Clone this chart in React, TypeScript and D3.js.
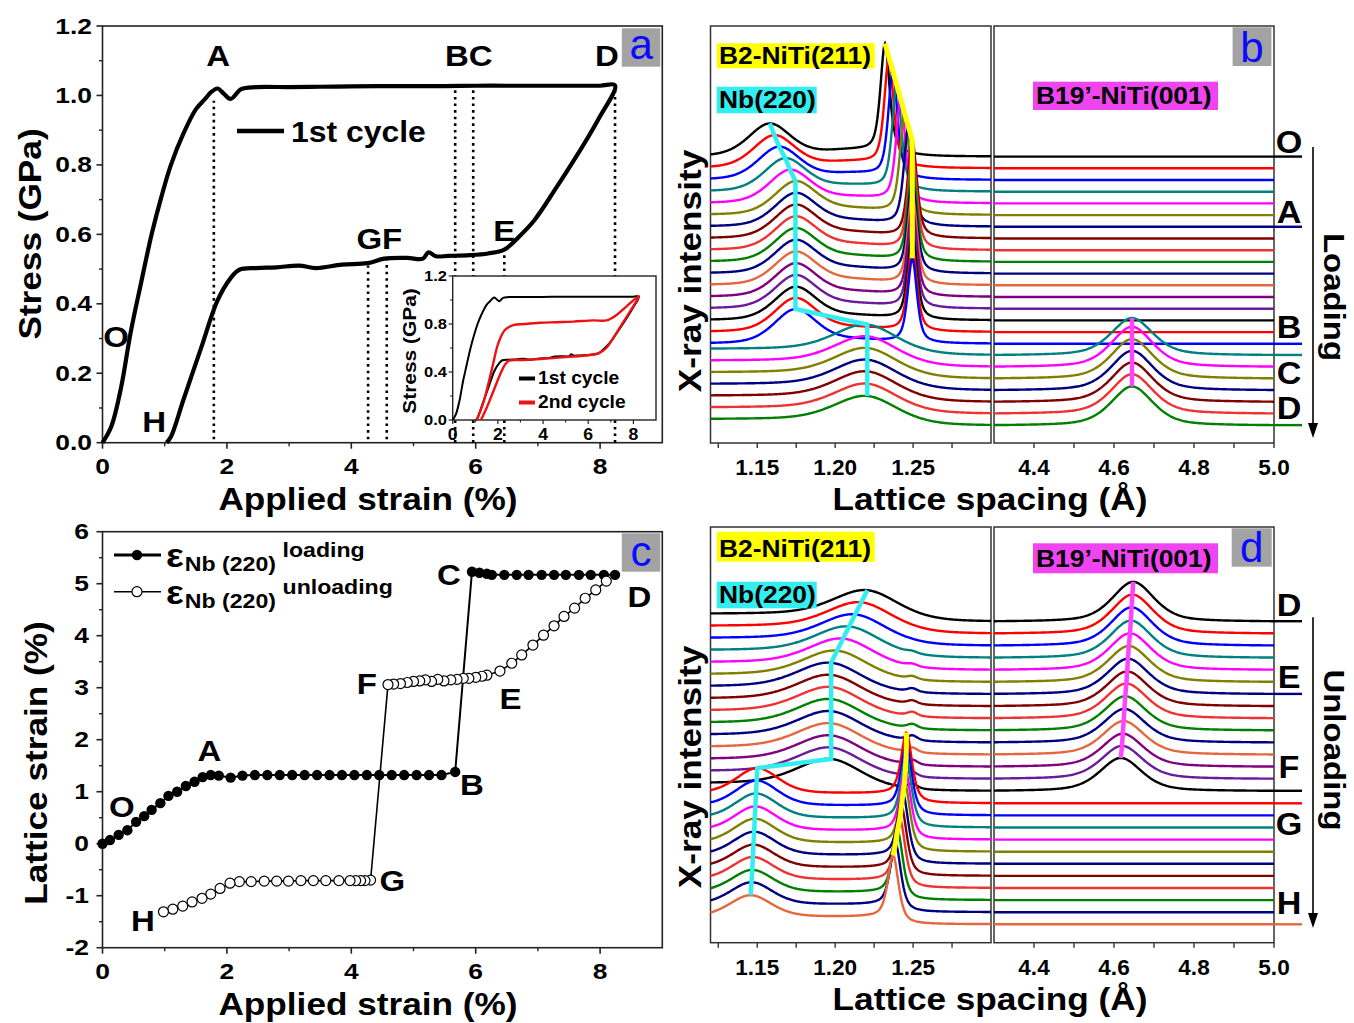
import React from "react";
import * as d3 from "d3";

const FONT = "'Liberation Sans', Arial, Helvetica, sans-serif";

// ---------- (a) macroscopic stress-strain ----------
const cycle1Strain = [0, 0.14, 0.3, 0.45, 0.62, 0.79, 0.95, 1.1, 1.3, 1.5, 1.65, 1.75, 1.85, 1.95, 2.06, 2.23, 2.47, 3.0, 3.5, 4.0, 4.5, 5.0, 5.5, 6.0, 6.5, 7.0, 7.5, 8.0, 8.24,
  7.97, 7.62, 7.28, 6.94, 6.7, 6.46, 6.2, 5.9, 5.56, 5.36, 5.24, 5.15, 4.9, 4.53, 4.26, 3.85, 3.43, 3.16, 2.8, 2.47, 2.2, 2.06, 1.85, 1.58, 1.3, 1.1, 1.03];
const cycle1Stress = [0, 0.046, 0.16, 0.315, 0.46, 0.6, 0.71, 0.8, 0.89, 0.96, 0.99, 1.01, 1.02, 1.005, 0.99, 1.018, 1.024, 1.024, 1.025, 1.026, 1.027, 1.027, 1.027, 1.028, 1.028, 1.028, 1.028, 1.028, 1.029,
  0.931, 0.825, 0.73, 0.64, 0.594, 0.556, 0.545, 0.54, 0.538, 0.537, 0.548, 0.53, 0.532, 0.53, 0.517, 0.513, 0.503, 0.51, 0.505, 0.503, 0.498, 0.474, 0.41, 0.27, 0.123, 0.017, 0];
const cycle2Strain = [1.06, 1.35, 1.73, 2.02, 2.31, 2.68, 3.2, 3.86, 4.6, 5.34, 6.22, 6.81, 7.25, 7.77, 8.24,
  7.9, 7.5, 7.1, 6.8, 6.5, 6.0, 5.0, 4.0, 3.0, 2.5, 2.35, 2.1, 1.8, 1.5, 1.25];
const cycle2Stress = [0, 0.14, 0.42, 0.64, 0.75, 0.79, 0.8, 0.81, 0.815, 0.82, 0.83, 0.83, 0.875, 0.96, 1.03,
  0.92, 0.8, 0.68, 0.6, 0.56, 0.54, 0.525, 0.51, 0.5, 0.495, 0.47, 0.38, 0.24, 0.1, 0];

// dotted guides for the diffraction stages
const stageStrain = [1.79, 5.67, 5.96, 8.24, 6.46, 4.57, 4.27];
const stageTop = [0.985, 1.015, 1.015, 1.02, 0.55, 0.525, 0.51];
const stageBottom = [0.01, 0, 0, 0, 0, 0.01, 0.01];

const stressTicks = [0, 0.2, 0.4, 0.6, 0.8, 1.0, 1.2];
const stressMinor = [0.1, 0.3, 0.5, 0.7, 0.9, 1.1];
const strainTicks = [0, 2, 4, 6, 8];
const strainMinor = [1, 3, 5, 7];
const insetStressTicks = [0, 0.4, 0.8, 1.2];
const insetStressMinor = [0.2, 0.6, 1.0];

// ---------- (c) Nb(220) lattice strain ----------
const loadStrain = [0, 0.12, 0.26, 0.4, 0.54, 0.67, 0.79, 0.93, 1.06, 1.2, 1.34, 1.48, 1.61, 1.74, 1.87, 2.06, 2.25, 2.45, 2.65, 2.85, 3.05, 3.25, 3.45, 3.65, 3.85, 4.05, 4.25, 4.45, 4.65, 4.85, 5.05, 5.25, 5.45, 5.67,
  5.94, 6.06, 6.18, 6.26, 6.46, 6.66, 6.85, 7.06, 7.26, 7.45, 7.66, 7.85, 8.06, 8.24];
const loadLattice = [0, 0.07, 0.17, 0.26, 0.42, 0.53, 0.65, 0.78, 0.92, 1.0, 1.11, 1.19, 1.28, 1.32, 1.31, 1.27, 1.31, 1.32, 1.32, 1.32, 1.32, 1.32, 1.32, 1.32, 1.32, 1.32, 1.32, 1.32, 1.32, 1.32, 1.32, 1.32, 1.32, 1.38,
  5.23, 5.21, 5.19, 5.17, 5.17, 5.17, 5.17, 5.17, 5.17, 5.17, 5.17, 5.17, 5.17, 5.17];
const unloadStrain = [8.1, 7.93, 7.76, 7.59, 7.42, 7.26, 7.09, 6.92, 6.74, 6.58, 6.39, 6.18, 6.1, 6.0, 5.89, 5.8, 5.7, 5.6, 5.49, 5.39, 5.29, 5.19, 5.1, 5.0, 4.9, 4.79, 4.68, 4.59,
  4.31, 4.22, 4.15, 4.07, 3.98, 3.8, 3.59, 3.39, 3.19, 2.99, 2.8, 2.6, 2.39, 2.2, 2.05, 1.89, 1.74, 1.6, 1.44, 1.29, 1.13, 0.98];
const unloadLattice = [5.05, 4.88, 4.72, 4.53, 4.37, 4.19, 4.01, 3.82, 3.63, 3.47, 3.32, 3.24, 3.22, 3.2, 3.18, 3.18, 3.16, 3.15, 3.13, 3.16, 3.12, 3.15, 3.13, 3.12, 3.1, 3.08, 3.07, 3.06,
  -0.7, -0.71, -0.71, -0.71, -0.71, -0.71, -0.71, -0.71, -0.71, -0.72, -0.72, -0.72, -0.73, -0.73, -0.76, -0.86, -0.97, -1.05, -1.12, -1.2, -1.26, -1.31];
const latticeTicks = [-2, -1, 0, 1, 2, 3, 4, 5, 6];
const latticeMinor = [-1.5, -0.5, 0.5, 1.5, 2.5, 3.5, 4.5, 5.5];

// ---------- (b) loading patterns, top (O) to bottom (D) ----------
const bNbPos = [1.158, 1.161, 1.164, 1.168, 1.171, 1.1745, 1.1745, 1.1745, 1.1745, 1.1745, 1.1745, 1.1745, 1.1745, 1.1745, 1.1745, 1.1745, 1.1745,
  1.2206, 1.2206, 1.2206, 1.2206, 1.2206, 1.2206, 1.2206];
const bNbHeight = [2.8, 2.8, 2.8, 2.8, 2.8, 2.8, 2.8, 2.8, 2.8, 2.8, 2.8, 2.8, 2.8, 2.8, 2.8, 2.85, 2.9, 2.3, 2.3, 2.3, 2.3, 2.3, 2.25, 2.2];
const bNbWidth = [0.016, 0.016, 0.016, 0.016, 0.016, 0.016, 0.016, 0.016, 0.016, 0.016, 0.016, 0.016, 0.016, 0.016, 0.016, 0.016, 0.016,
  0.024, 0.024, 0.024, 0.024, 0.024, 0.024, 0.024];
const bB2Pos = [1.232, 1.2345, 1.237, 1.2395, 1.242, 1.2445, 1.247, 1.2495, 1.2495, 1.2495, 1.2495, 1.2495, 1.2495, 1.2495, 1.2495, 1.2495, 1.2495,
  0, 0, 0, 0, 0, 0, 0];
const bB2Height = [9.3, 9.15, 9.0, 8.85, 8.7, 8.55, 8.4, 8.25, 8.1, 7.95, 7.8, 7.65, 7.5, 7.4, 7.3, 7.2, 7.2, 0, 0, 0, 0, 0, 0, 0];
const bHump = [0.5, 0.5, 0.5, 0.48, 0.47, 0.46, 0.45, 0.44, 0.43, 0.42, 0.41, 0.4, 0.38, 0.36, 0.34, 0.32, 0.3, 0, 0, 0, 0, 0, 0, 0];
const bStep = [0, 0, 0, 0, 0, 0, 0, 0, 0, 0, 0, 0, 0, 0, 0, 0, 0, 0.55, 0.55, 0.55, 0.55, 0.55, 0.55, 0.55];
const bStepPos = [1.2, 1.2, 1.2, 1.2, 1.2, 1.2, 1.2, 1.2, 1.2, 1.2, 1.2, 1.2, 1.2, 1.2, 1.2, 1.2, 1.2, 1.226, 1.226, 1.226, 1.226, 1.226, 1.226, 1.226];
const bB19Pos = [0, 0, 0, 0, 0, 0, 0, 0, 0, 0, 0, 0, 0, 0, 0, 0, 0, 4.645, 4.645, 4.645, 4.645, 4.645, 4.645, 4.645];
const bB19Height = [0, 0, 0, 0, 0, 0, 0, 0, 0, 0, 0, 0, 0, 0, 0, 0, 0, 3.2, 3.45, 3.4, 3.4, 3.4, 3.4, 3.35];

// ---------- (d) unloading patterns, top (D) to bottom (H) ----------
const dNbPos = [1.2206, 1.2167, 1.2128, 1.209, 1.2051, 1.2012, 1.1974, 1.1974, 1.1974, 1.1974, 1.1974, 1.1974, 1.1974, 1.1974, 1.1974,
  1.15, 1.1496, 1.1492, 1.1488, 1.1484, 1.148, 1.1476, 1.1472, 1.1468, 1.1463, 1.1457];
const dNbHeight = [2.15, 2.15, 2.15, 2.15, 2.15, 2.15, 2.15, 2.15, 2.15, 2.15, 2.15, 2.15, 2.15, 2.15, 2.2,
  2.1, 2.1, 2.05, 2.0, 2.0, 1.95, 1.9, 1.9, 1.85, 1.85, 1.8];
const dNbWidth = [0.025, 0.025, 0.025, 0.025, 0.025, 0.025, 0.025, 0.025, 0.025, 0.025, 0.025, 0.025, 0.025, 0.025, 0.025,
  0.016, 0.016, 0.016, 0.016, 0.016, 0.016, 0.016, 0.016, 0.016, 0.016, 0.016];
const dB2Pos = [1.2495, 1.2495, 1.2495, 1.2495, 1.2495, 1.2495, 1.2495, 1.2495, 1.2495, 1.2495, 1.2495, 1.2495, 1.2495, 1.2495, 1.2495,
  1.2458, 1.2457, 1.2455, 1.245, 1.2445, 1.2435, 1.2425, 1.2415, 1.24, 1.2387, 1.2372];
const dB2Height = [0, 0, 0, 0.15, 0.2, 0.25, 0.3, 0.3, 0.35, 0.35, 0.4, 0.4, 0.4, 0.4, 0.4,
  5.2, 5.2, 5.2, 5.2, 5.2, 5.2, 5.2, 5.2, 5.2, 5.2, 5.2];
const dStep = [0.65, 0.65, 0.65, 0.65, 0.65, 0.65, 0.65, 0.65, 0.65, 0.65, 0.65, 0.65, 0.65, 0.65, 0.65,
  0.8, 0.78, 0.76, 0.74, 0.72, 0.7, 0.68, 0.66, 0.64, 0.62, 0.6];
const dStepPos = [1.2306, 1.2267, 1.2228, 1.219, 1.2151, 1.2112, 1.2074, 1.2074, 1.2074, 1.2074, 1.2074, 1.2074, 1.2074, 1.2074, 1.2074,
  1.2498, 1.2497, 1.2495, 1.249, 1.2485, 1.2475, 1.2465, 1.2455, 1.244, 1.2427, 1.2412];
const dB19Pos = [4.648, 4.646, 4.644, 4.642, 4.64, 4.637, 4.635, 4.633, 4.631, 4.628, 4.626, 4.624, 4.622, 4.62, 4.617,
  0, 0, 0, 0, 0, 0, 0, 0, 0, 0, 0];
const dB19Height = [3.3, 3.25, 3.2, 3.1, 3.05, 3.0, 2.95, 2.9, 2.9, 2.85, 2.8, 2.8, 2.75, 2.75, 2.75,
  0, 0, 0, 0, 0, 0, 0, 0, 0, 0, 0];

const spacingMajorL = [1.15, 1.2, 1.25];
const spacingMinorL = [1.125, 1.175, 1.225, 1.275];
const spacingMajorR = [4.4, 4.6, 4.8, 5.0];
const spacingMinorR = [4.5, 4.7, 4.9];

// Origin-like colour cycle of the stacked patterns
const PALETTE = ["#000000", "#ff0000", "#0000ff", "#008080", "#ff00ff", "#808000", "#000080",
  "#800000", "#ee3333", "#008000", "#000080", "#e4683f", "#800080", "#6a1b9a"];

// pseudo-Voigt peak profile
const pv = (x: number, c: number, h: number, w: number, eta: number) => {
  const t = (x - c) / w;
  return h * (eta / (1 + t * t) + (1 - eta) * Math.exp(-Math.LN2 * t * t));
};
const sig = (x: number, c: number, s: number) => 1 / (1 + Math.exp((x - c) / s));

const T = ({ x, y, size, children, anchor = "middle", rot = 0, sx = 1.1, fill = "#000", weight = 700, dy }: any) => (
  <text transform={`translate(${x},${y}) rotate(${rot}) scale(${sx},1)`} fontSize={size} fontWeight={weight}
    fill={fill} textAnchor={anchor} dy={dy} fontFamily={FONT}>{children}</text>
);

const Tag = ({ x0, y0, x1, y1, letter, base }: any) => (
  <g>
    <rect x={x0} y={y0} width={x1 - x0} height={y1 - y0} fill="#a3a3a3" />
    <T x={(x0 + x1) / 2} y={base} size={42} weight={400} sx={1} fill="#0a0aff">{letter}</T>
  </g>
);

const xStrain = d3.scaleLinear().domain([0, 9]).range([102.5, 662.3]);

function StrainAxis({ y0, y1 }: any) {
  return (
    <g>
      <rect x={xStrain(0)} y={y1} width={xStrain(9) - xStrain(0)} height={y0 - y1} fill="none" stroke="#222" strokeWidth={1.6} />
      {strainTicks.map((t) => (
        <g key={t}>
          <line x1={xStrain(t)} x2={xStrain(t)} y1={y0} y2={y0 + 6} stroke="#222" strokeWidth={1.6} />
          <T x={xStrain(t)} y={y0 + 31} size={22} sx={1.2}>{t}</T>
        </g>
      ))}
      {strainMinor.map((t) => (
        <line key={t} x1={xStrain(t)} x2={xStrain(t)} y1={y0} y2={y0 + 3.5} stroke="#222" strokeWidth={1.4} />
      ))}
      <T x={368} y={y0 + 67} size={32}>Applied strain (%)</T>
    </g>
  );
}

function PanelA() {
  const y = d3.scaleLinear().domain([0, 1.2]).range([442.7, 26]);
  const xi = d3.scaleLinear().domain([0, 9]).range([452.7, 656]);
  const yi = d3.scaleLinear().domain([0, 1.2]).range([420, 276]);
  const main = d3.line<number>().x((_, i) => xStrain(cycle1Strain[i])).y((d) => y(d)).curve(d3.curveCatmullRom.alpha(0.5));
  const ins1 = d3.line<number>().x((_, i) => xi(cycle1Strain[i])).y((d) => yi(d)).curve(d3.curveCatmullRom.alpha(0.5));
  const ins2 = d3.line<number>().x((_, i) => xi(cycle2Strain[i])).y((d) => yi(d)).curve(d3.curveCatmullRom.alpha(0.5));
  const letters: [string, number, number][] = [["A", 1.86, 1.116], ["BC", 5.89, 1.116], ["D", 8.11, 1.116], ["E", 6.46, 0.612],
    ["GF", 4.45, 0.589], ["O", 0.22, 0.305], ["H", 0.83, 0.06]];
  return (
    <g>
      <StrainAxis y0={442.7} y1={26} />
      {stressTicks.map((t) => (
        <g key={t}>
          <line x1={xStrain(0) - 6} x2={xStrain(0)} y1={y(t)} y2={y(t)} stroke="#222" strokeWidth={1.6} />
          <T x={92} y={y(t) + 7.5} size={22} sx={1.2} anchor="end">{d3.format(".1f")(t)}</T>
        </g>
      ))}
      {stressMinor.map((t) => (
        <line key={t} x1={xStrain(0) - 3.5} x2={xStrain(0)} y1={y(t)} y2={y(t)} stroke="#222" strokeWidth={1.4} />
      ))}
      <T x={30} y={234} size={32} rot={-90} dy="0.35em">Stress (GPa)</T>
      {stageStrain.map((s, i) => (
        <line key={i} x1={xStrain(s)} x2={xStrain(s)} y1={y(stageBottom[i])} y2={y(stageTop[i])}
          stroke="#000" strokeWidth={2.6} strokeDasharray="2.6,4" />
      ))}
      <path d={main(cycle1Stress) || ""} fill="none" stroke="#000" strokeWidth={4.2} strokeLinejoin="round" />
      {letters.map(([s, a, b]) => (
        <T key={s} x={xStrain(a)} y={y(b)} size={30} dy="0.35em">{s}</T>
      ))}
      <line x1={237} x2={284} y1={131} y2={131} stroke="#000" strokeWidth={4.5} />
      <T x={291} y={142} size={29} anchor="start">1st cycle</T>
      <Tag x0={621.8} y0={28.3} x1={660.3} y1={66.7} letter="a" base={58.5} />

      {/* inset: two cycles */}
      <rect x={xi(0)} y={yi(1.2)} width={xi(9) - xi(0)} height={yi(0) - yi(1.2)} fill="#fff" stroke="#222" strokeWidth={1.4} />
      {strainTicks.map((t) => (
        <g key={t}>
          <line x1={xi(t)} x2={xi(t)} y1={yi(0)} y2={yi(0) + 4} stroke="#222" strokeWidth={1.2} />
          <T x={xi(t)} y={440} size={16}>{t}</T>
        </g>
      ))}
      {strainMinor.map((t) => (
        <line key={t} x1={xi(t)} x2={xi(t)} y1={yi(0)} y2={yi(0) + 2.5} stroke="#222" strokeWidth={1.1} />
      ))}
      {insetStressTicks.map((t) => (
        <g key={t}>
          <line x1={xi(0) - 4} x2={xi(0)} y1={yi(t)} y2={yi(t)} stroke="#222" strokeWidth={1.2} />
          <T x={447} y={yi(t) + 5} size={15} anchor="end">{d3.format(".1f")(t)}</T>
        </g>
      ))}
      {insetStressMinor.map((t) => (
        <line key={t} x1={xi(0) - 2.5} x2={xi(0)} y1={yi(t)} y2={yi(t)} stroke="#222" strokeWidth={1.1} />
      ))}
      <T x={409} y={351} size={19} rot={-90} dy="0.35em">Stress (GPa)</T>
      <path d={ins1(cycle1Stress) || ""} fill="none" stroke="#000" strokeWidth={2} />
      <path d={ins2(cycle2Stress) || ""} fill="none" stroke="#ee1111" strokeWidth={2.4} />
      <line x1={519} x2={535} y1={378.5} y2={378.5} stroke="#000" strokeWidth={4} />
      <T x={538} y={384} size={17.5} anchor="start">1st cycle</T>
      <line x1={519} x2={535} y1={402.5} y2={402.5} stroke="#ee1111" strokeWidth={4} />
      <T x={538} y={408} size={17.5} anchor="start">2nd cycle</T>
    </g>
  );
}

function PanelC() {
  const y = d3.scaleLinear().domain([-2, 6]).range([947.7, 531.7]);
  const ld = d3.line<number>().x((_, i) => xStrain(loadStrain[i])).y((d) => y(d));
  const ul = d3.line<number>().x((_, i) => xStrain(unloadStrain[i])).y((d) => y(d));
  const letters: [string, number, number][] = [["O", 0.31, 0.71], ["A", 1.72, 1.8], ["B", 5.94, 1.13], ["C", 5.57, 5.17],
    ["D", 8.63, 4.75], ["E", 6.56, 2.8], ["F", 4.25, 3.09], ["G", 4.66, -0.7], ["H", 0.65, -1.47]];
  return (
    <g>
      <StrainAxis y0={947.7} y1={531.7} />
      {latticeTicks.map((t) => (
        <g key={t}>
          <line x1={xStrain(0) - 6} x2={xStrain(0)} y1={y(t)} y2={y(t)} stroke="#222" strokeWidth={1.6} />
          <T x={89} y={y(t) + 7.5} size={22} sx={1.2} anchor="end">{t}</T>
        </g>
      ))}
      {latticeMinor.map((t) => (
        <line key={t} x1={xStrain(0) - 3.5} x2={xStrain(0)} y1={y(t)} y2={y(t)} stroke="#222" strokeWidth={1.4} />
      ))}
      <T x={36} y={763} size={32} rot={-90} dy="0.35em">Lattice strain (%)</T>
      <path d={ld(loadLattice) || ""} fill="none" stroke="#000" strokeWidth={2} />
      <path d={ul(unloadLattice) || ""} fill="none" stroke="#000" strokeWidth={1.6} />
      {loadLattice.map((v, i) => (
        <circle key={"l" + i} cx={xStrain(loadStrain[i])} cy={y(v)} r={5.2} fill="#000" />
      ))}
      {unloadLattice.map((v, i) => (
        <circle key={"u" + i} cx={xStrain(unloadStrain[i])} cy={y(v)} r={5} fill="#fff" stroke="#000" strokeWidth={1.2} />
      ))}
      {letters.map(([s, a, b]) => (
        <T key={s} x={xStrain(a)} y={y(b)} size={30} dy="0.35em">{s}</T>
      ))}
      <line x1={114} x2={161} y1={555} y2={555} stroke="#000" strokeWidth={3} />
      <circle cx={137} cy={555} r={5.2} fill="#000" />
      <text transform="translate(166,567) scale(1.1,1)" fontFamily={FONT} fontWeight={700}>
        <tspan fontSize={34}>ε</tspan>
        <tspan fontSize={21} dx={1} dy={4}>Nb (220)</tspan>
        <tspan fontSize={21} dx={6} dy={-14}>loading</tspan>
      </text>
      <line x1={114} x2={161} y1={591.7} y2={591.7} stroke="#000" strokeWidth={1.6} />
      <circle cx={137} cy={591.7} r={5} fill="#fff" stroke="#000" strokeWidth={1.2} />
      <text transform="translate(166,603.7) scale(1.1,1)" fontFamily={FONT} fontWeight={700}>
        <tspan fontSize={34}>ε</tspan>
        <tspan fontSize={21} dx={1} dy={4}>Nb (220)</tspan>
        <tspan fontSize={21} dx={6} dy={-14}>unloading</tspan>
      </text>
      <Tag x0={621.8} y0={533.3} x1={660.3} y1={571.7} letter="c" base={566} />
    </g>
  );
}

const xL = d3.scaleLinear().domain([1.12, 1.3]).range([710.5, 991]);
const xR = d3.scaleLinear().domain([4.3, 5.0]).range([994, 1274]);
const gridL = d3.range(1.12, 1.30001, 0.0005);
const gridR = d3.range(4.3, 5.00001, 0.004);

function Spectra(p: any) {
  const { top, bottom, unitPx, n, baseOffset, nbPos, nbH, nbW, b2Pos, b2H, b2W, hump, step, stepPos, b19Pos, b19H,
    marks, arrowFrom, arrowTo, word, wordY, tag, b2Box, nbBox, b19Box, titleY, yTitleY } = p;
  const y = d3.scaleLinear().domain([0, (bottom - top) / unitPx]).range([bottom, top]);
  const base = (k: number) => baseOffset + (n - 1 - k);
  const left = (k: number, v: number) => {
    let s = base(k) + pv(v, nbPos[k], nbH[k], nbW[k], 0.35);
    if (b2H[k] > 0) s += pv(v, b2Pos[k], b2H[k], b2W, 0.6);
    if (hump && hump[k] > 0) s += hump[k] * Math.exp(-Math.LN2 * ((v - 1.212) / 0.025) ** 2);
    if (step[k] > 0) s += step[k] * sig(v, stepPos[k], b2H[k] > 1 ? 0.003 : 0.011);
    return s;
  };
  const right = (k: number, v: number) => base(k) + (b19H[k] > 0 ? pv(v, b19Pos[k], b19H[k], 0.062, 0.5) : 0);
  const idx = d3.range(n);
  const lineL = (k: number) => d3.line<number>().x((v) => xL(v)).y((v) => y(left(k, v)))(gridL) || "";
  const lineR = (k: number) => d3.line<number>().x((v) => xR(v)).y((v) => y(right(k, v)))(gridR) || "";
  const guide = (ks: number[], pos: number[], sc: any, f: any) =>
    d3.line<number>().x((k) => sc(pos[k])).y((k) => y(f(k, pos[k])))(ks) || "";
  const nbGuide = guide(idx, nbPos, xL, left);
  const b2Guide = guide(idx.filter((k) => b2H[k] > 1), b2Pos, xL, left);
  const b19Guide = guide(idx.filter((k) => b19H[k] > 0), b19Pos, xR, right);
  return (
    <g>
      <rect x={xL(1.12)} y={top} width={xL(1.3) - xL(1.12)} height={bottom - top} fill="none" stroke="#333" strokeWidth={1.5} />
      <rect x={xR(4.3)} y={top} width={xR(5.0) - xR(4.3)} height={bottom - top} fill="none" stroke="#333" strokeWidth={1.5} />
      {spacingMajorL.map((t) => (
        <g key={t}>
          <line x1={xL(t)} x2={xL(t)} y1={bottom} y2={bottom + 5} stroke="#333" strokeWidth={1.4} />
          <T x={xL(t)} y={bottom + 32} size={21.5} sx={1.05}>{d3.format(".2f")(t)}</T>
        </g>
      ))}
      {spacingMinorL.map((t) => (
        <line key={t} x1={xL(t)} x2={xL(t)} y1={bottom} y2={bottom + 5} stroke="#333" strokeWidth={1.4} />
      ))}
      {spacingMajorR.map((t) => (
        <g key={t}>
          <line x1={xR(t)} x2={xR(t)} y1={bottom} y2={bottom + 5} stroke="#333" strokeWidth={1.4} />
          <T x={xR(t)} y={bottom + 32} size={21.5} sx={1.05}>{d3.format(".1f")(t)}</T>
        </g>
      ))}
      {spacingMinorR.map((t) => (
        <line key={t} x1={xR(t)} x2={xR(t)} y1={bottom} y2={bottom + 5} stroke="#333" strokeWidth={1.4} />
      ))}
      <T x={990} y={titleY} size={32}>Lattice spacing (Å)</T>
      <T x={690} y={yTitleY} size={32} rot={-90} dy="0.35em">X-ray intensity</T>

      {idx.map((k) => (
        <g key={k}>
          <path d={lineL(k)} fill="none" stroke={PALETTE[k % 14]} strokeWidth={2.4} />
          <path d={lineR(k)} fill="none" stroke={PALETTE[k % 14]} strokeWidth={2.4} />
        </g>
      ))}
      <path d={nbGuide} fill="none" stroke="#33eeee" strokeWidth={4.5} />
      <path d={b2Guide} fill="none" stroke="#ffff00" strokeWidth={5} />
      <path d={b19Guide} fill="none" stroke="#ff44ff" strokeWidth={4.5} />

      {marks.map(([name, k, ly]: any) => (
        <g key={name}>
          <line x1={xR(5.0)} x2={1302} y1={y(right(k, 5.0))} y2={y(right(k, 5.0))} stroke={PALETTE[k % 14]} strokeWidth={2.4} />
          <T x={1289} y={y(ly)} size={31} dy="0.35em">{name}</T>
        </g>
      ))}
      <line x1={1313} x2={1313} y1={y(arrowFrom)} y2={y(arrowTo) - 12} stroke="#000" strokeWidth={1.6} />
      <path d={`M1308,${y(arrowTo) - 15}L1318,${y(arrowTo) - 15}L1313,${y(arrowTo)}Z`} fill="#000" />
      <T x={1335} y={wordY} size={30} rot={90} dy="0.35em">{word}</T>

      <rect x={716.7} y={b2Box[0]} width={158} height={b2Box[1] - b2Box[0]} fill="#ffff00" />
      <T x={719} y={b2Box[1] - 4.5} size={24} anchor="start">B2-NiTi(211)</T>
      <rect x={716.7} y={nbBox[0]} width={100} height={nbBox[1] - nbBox[0]} fill="#33eeee" />
      <T x={719} y={nbBox[1] - 5} size={24} anchor="start">Nb(220)</T>
      <rect x={1033} y={b19Box[0]} width={185} height={b19Box[1] - b19Box[0]} fill="#f044f0" />
      <T x={1036} y={b19Box[1] - 6} size={24} anchor="start">B19’-NiTi(001)</T>
      <Tag {...tag} />
    </g>
  );
}

export default function App() {
  return (
    <svg width={1354} height={1023} style={{ position: "absolute", left: 0, top: 0 }} fontFamily={FONT}>
      <rect width={1354} height={1023} fill="#fff" />
      <PanelA />
      <PanelC />
      <Spectra top={26} bottom={443} unitPx={11.7} n={24} baseOffset={1.48}
        nbPos={bNbPos} nbH={bNbHeight} nbW={bNbWidth} b2Pos={bB2Pos} b2H={bB2Height} b2W={0.0035}
        hump={bHump} step={bStep} stepPos={bStepPos} b19Pos={bB19Pos} b19H={bB19Height}
        marks={[["O", 0, 25.7], ["A", 6, 19.74], ["B", 16, 9.91], ["C", 17, 5.98], ["D", 23, 2.99]]}
        arrowFrom={25.3} arrowTo={0.43} word="Loading" wordY={297}
        b2Box={[43.3, 68.3]} nbBox={[86.7, 113.3]} b19Box={[81.7, 110]} titleY={510} yTitleY={271}
        tag={{ x0: 1232.6, y0: 27.3, x1: 1271.4, y1: 66, letter: "b", base: 62 }} />
      <Spectra top={527} bottom={942.7} unitPx={12.1} n={26} baseOffset={1.52}
        nbPos={dNbPos} nbH={dNbHeight} nbW={dNbWidth} b2Pos={dB2Pos} b2H={dB2Height} b2W={0.004}
        hump={null} step={dStep} stepPos={dStepPos} b19Pos={dB19Pos} b19H={dB19Height}
        marks={[["D", 0, 27.9], ["E", 6, 21.96], ["F", 14, 14.52], ["G", 15, 9.81], ["H", 25, 3.29]]}
        arrowFrom={26.9} arrowTo={1.21} word="Unloading" wordY={750}
        b2Box={[531.7, 561.7]} nbBox={[581.7, 608.3]} b19Box={[543.3, 573.3]} titleY={1010} yTitleY={767}
        tag={{ x0: 1231.7, y0: 528.3, x1: 1271.7, y1: 566.7, letter: "d", base: 562 }} />
    </svg>
  );
}
